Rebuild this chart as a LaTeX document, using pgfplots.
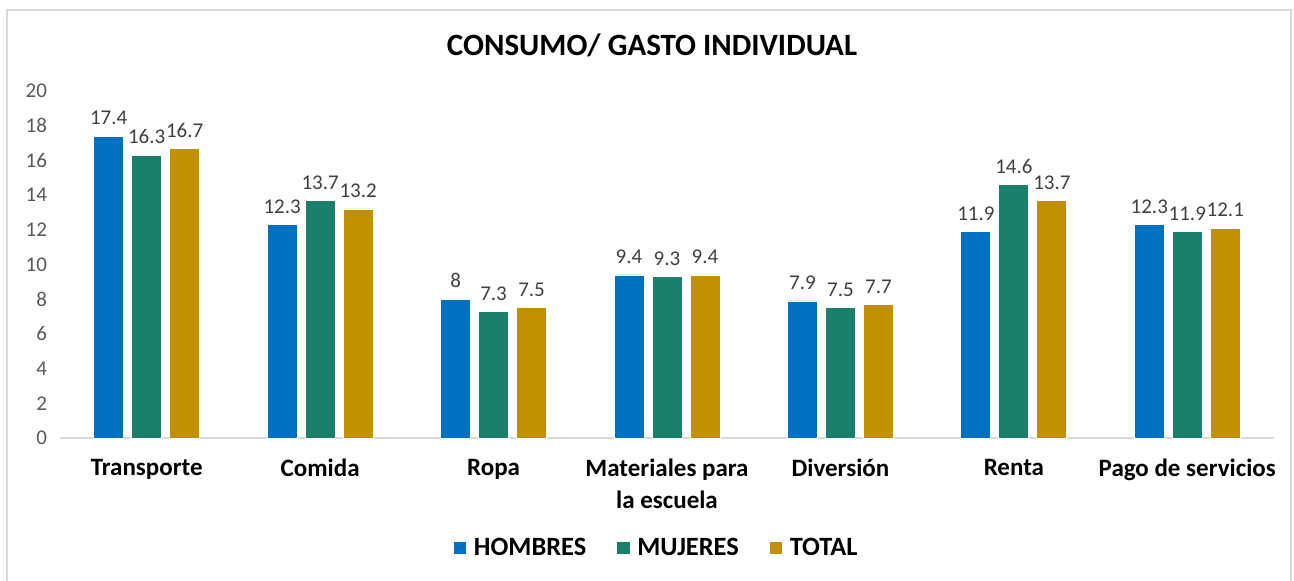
\documentclass[border=0pt]{standalone}
\usepackage{fontspec}
\setmainfont{Carlito}
\usepackage{pgfplots}
\pgfplotsset{compat=1.18}
\definecolor{cblue}{RGB}{0,112,192}
\definecolor{cgreen}{RGB}{26,128,108}
\definecolor{cgold}{RGB}{191,144,0}
\definecolor{lbl}{RGB}{64,64,64}
\definecolor{tck}{RGB}{89,89,89}
\definecolor{grl}{RGB}{217,217,217}
\begin{document}
\begin{tikzpicture}
\path[use as bounding box] (0,0) rectangle (647pt,290pt);
\draw[grl,line width=0.8pt] (3.5pt,-2pt) -- (3.5pt,285pt) -- (645.5pt,285pt) -- (645.5pt,-2pt);
\node[font=\bfseries\fontsize{15.5}{18}\selectfont] at (326pt,267.5pt) {CONSUMO/ GASTO INDIVIDUAL};
\begin{axis}[
  at={(30pt,71pt)}, anchor=south west,
  width=607pt, height=173.5pt, scale only axis,
  ybar=4pt, bar width=15pt,
  xmin=-0.5, xmax=6.5, ymin=0, ymax=20,
  xtick=data,
  xticklabels={Transporte,Comida,Ropa,{Materiales para\\la escuela},Diversión,Renta,Pago de servicios},
  x tick label style={font=\bfseries\fontsize{12.5}{16}\selectfont, align=center, yshift=-7pt},
  ytick={0,2,...,20},
  y tick label style={font=\fontsize{10.5}{12}\selectfont, text=tck, xshift=-3pt},
  /pgf/number format/assume math mode=true,
  major tick length=0pt,
  axis y line*=left,
  axis x line*=bottom,
  y axis line style={draw=none},
  x axis line style={draw=grl, line width=0.8pt, -},
  nodes near coords,
  every node near coord/.append style={font=\fontsize{10.5}{12}\selectfont, text=lbl, yshift=2pt},
  legend columns=-1,
  legend style={at={(0.492,-0.317)}, anchor=center, draw=none,
    font=\bfseries\fontsize{13.2}{15}\selectfont,
    /tikz/every odd column/.append style={column sep=1.5pt},
    /tikz/every even column/.append style={column sep=13pt}},
  legend image code/.code={\fill[#1] (0pt,-3.3pt) rectangle (6.6pt,3.3pt);},
  clip=false,
]
\addplot[fill=cblue, draw=white, line width=0.4pt] coordinates {(0,17.4)(1,12.3)(2,8)(3,9.4)(4,7.9)(5,11.9)(6,12.3)};
\addplot[fill=cgreen, draw=white, line width=0.4pt] coordinates {(0,16.3)(1,13.7)(2,7.3)(3,9.3)(4,7.5)(5,14.6)(6,11.9)};
\addplot[fill=cgold, draw=white, line width=0.4pt] coordinates {(0,16.7)(1,13.2)(2,7.5)(3,9.4)(4,7.7)(5,13.7)(6,12.1)};
\legend{HOMBRES,MUJERES,TOTAL}
\end{axis}
\end{tikzpicture}
\end{document}
